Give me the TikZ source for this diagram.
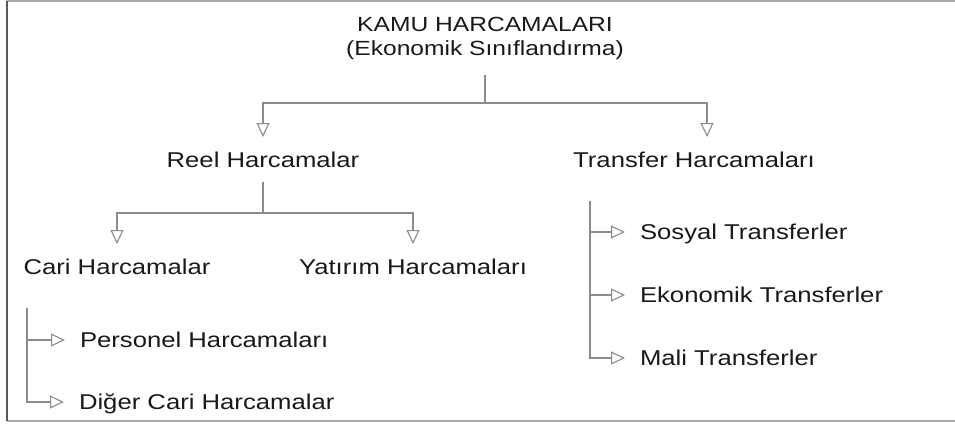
\documentclass[tikz,border=0pt]{standalone}
\usepackage{fontspec}
\setmainfont[FakeStretch=1.2]{Liberation Sans}
\usepackage{tikz}
\usetikzlibrary{arrows.meta, positioning, calc}
\usepackage{xcolor}
\definecolor{linegray}{HTML}{8C8C8C}
\definecolor{framegray}{HTML}{A8A8A8}

\begin{document}
\begin{tikzpicture}[x=1pt, y=-1pt,
    lbl/.style={inner sep=0pt, outer sep=15pt, text height=15pt, text depth=0pt,
        font=\fontsize{21.4}{24}\selectfont, text=black!90},
    link/.style={linegray, line width=1.1pt},
    arr/.style={link, -{Triangle[open, length=14pt, width=13pt, fill=white]}}]
            \useasboundingbox (0,0) rectangle (955,423);
            % frame
            \draw[framegray, line width=1.8pt] (7,1) -- (955,1);
            \draw[framegray, line width=1.8pt] (7,421) -- (955,421);
            \draw[black!65, line width=1.5pt] (7,1) -- (7,421);

            % top
            \node[inner sep=0pt, outer sep=15pt, anchor=south, align=center,
                font=\fontsize{20.5}{24}\selectfont, text=black!90] (kamu) at (485,75)
                {KAMU HARCAMALARI\\(Ekonomik Sınıflandırma)};
            \node[lbl] (reel) at (263,159.5) {Reel Harcamalar};
            \node[lbl] (transfer) at (694,159.5) {Transfer Harcamaları};
            \node[lbl] (cari) at (117,266.5) {Cari Harcamalar};
            \node[lbl] (yatirim) at (413,266.5) {Yatırım Harcamaları};

            % lists
            \node[lbl, anchor=west] (personel) at (65,340) {Personel Harcamaları};
            \node[lbl, anchor=west] (diger) at (64,402) {Diğer Cari Harcamalar};
            \node[lbl, anchor=west] (sosyal) at (625,232) {Sosyal Transferler};
            \node[lbl, anchor=west] (ekonomik) at (625,295) {Ekonomik Transferler};
            \node[lbl, anchor=west] (mali) at (625,358) {Mali Transferler};

            \coordinate (split) at (485,103);
            \coordinate (rsplit) at (263,213);
            \coordinate (cbar) at (27,308);
            \coordinate (tbar) at (590,201);

            \draw[link] (kamu) -- (split);
            \draw[arr] (split) -| (reel);
            \draw[arr] (split) -| ([xshift=13pt]transfer.north);
            \draw[link] (reel) -- (rsplit);
            \draw[arr] (rsplit) -| (cari);
            \draw[arr] (rsplit) -| (yatirim);

            \draw[arr] (cbar) |- (diger);
            \draw[arr] (cbar |- personel) -- (personel);
            \draw[arr] (tbar) |- (mali);
            \draw[arr] (tbar |- sosyal) -- (sosyal);
            \draw[arr] (tbar |- ekonomik) -- (ekonomik);
        \end{tikzpicture}
\end{document}
